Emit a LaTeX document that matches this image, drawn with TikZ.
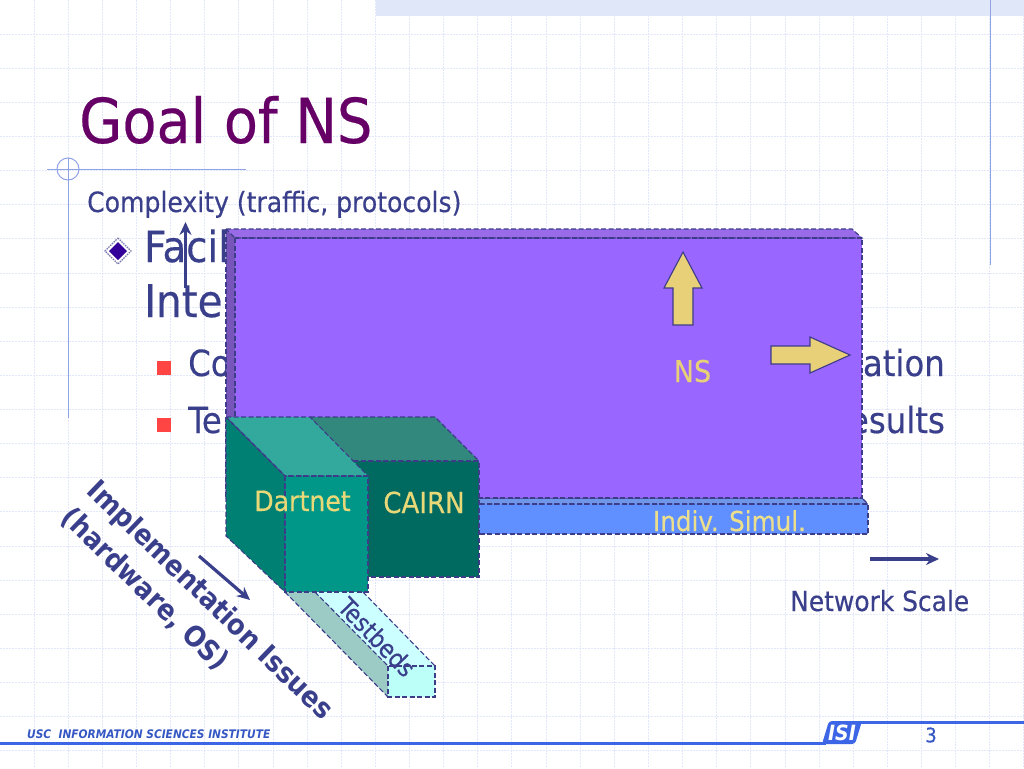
\documentclass[tikz,border=0pt]{standalone}
\usepackage{fontspec}
\setmainfont{DejaVu Sans Condensed}[UprightFeatures={FakeBold=0.35}]
\usetikzlibrary{arrows.meta}
\definecolor{gridc}{HTML}{E3E7FA}
\definecolor{stripc}{HTML}{DFE7F9}
\definecolor{rulec}{HTML}{8FA3E6}
\definecolor{titlec}{HTML}{660066}
\definecolor{inkc}{HTML}{3A3F8C}
\definecolor{edgec}{HTML}{3C3C88}
\definecolor{yellowc}{HTML}{E8D878}
\definecolor{arrowc}{HTML}{E8D078}
\definecolor{footc}{HTML}{3D66E6}
\definecolor{diamc}{HTML}{330099}
\definecolor{redc}{HTML}{FF4444}
\definecolor{barc}{HTML}{6090FF}
\definecolor{bartop}{HTML}{7096EA}
\definecolor{nsf}{HTML}{9966FF}
\definecolor{nst}{HTML}{9A6BE8}
\definecolor{nsl}{HTML}{7755BB}
\definecolor{tl}{HTML}{9CCBC6}
\definecolor{tt}{HTML}{CCFFFF}
\definecolor{tf}{HTML}{BBFFF8}
\definecolor{cf}{HTML}{006A60}
\definecolor{ct}{HTML}{33887E}
\definecolor{df}{HTML}{009688}
\definecolor{dl}{HTML}{008072}
\definecolor{dt}{HTML}{33A99E}
\newcommand{\fsz}[1]{\fontsize{#1}{#1}\selectfont}
\tikzset{
  txt/.style={inner sep=0pt,anchor=base west,text=inkc},
  face/.style={draw=edgec,line width=1.1pt,dash pattern=on 5pt off 2.5pt},
  blockarrow/.style={fill=arrowc,draw=edgec,line width=1.1pt},
  thinarrow/.style={draw=inkc,line width=3.2pt,-{Stealth[length=13pt,width=12pt]}},
  lab/.style={inner sep=0pt,text=yellowc,anchor=base}
}
\begin{document}
\begin{tikzpicture}[x=1pt,y=-1pt]
\useasboundingbox (0,0) rectangle (1024,768);
\fill[white] (0,0) rectangle (1024,768);
% background grid
\foreach \i in {1,...,30} \draw[gridc,line width=1pt,dash pattern=on 2pt off 1pt] ({\i*34.13},0) -- ({\i*34.13},768);
\foreach \i in {1,...,22} \draw[gridc,line width=1pt,dash pattern=on 2pt off 1pt] (0,{\i*34.13}) -- (1024,{\i*34.13});
\fill[stripc] (376,0) rectangle (1024,16);
% template rules
\draw[rulec,line width=1pt] (990,0) -- (990,265);
\draw[rulec,line width=1pt] (68,158) -- (68,418);
\draw[rulec,line width=1pt] (47,169) -- (246,169);
\draw[rulec,line width=1pt] (68,169) circle (11);
% title and list text
\node[txt,text=titlec] (title) at (79,143) {\fsz{62}Goal of NS};
\node[txt] (complexity) at (87,212) {\fsz{27.9}Complexity (traffic, protocols)};
\node[txt] (l1) at (144,262) {\fsz{43}Facil};
\node[txt] (l2) at (144,317) {\fsz{45}Inte};
\node[txt] (l3) at (188,376) {\fsz{36}Co};
\node[txt] (l4) at (188,433) {\fsz{36}Te};
\node[txt,anchor=base east] (r1) at (945,376) {\fsz{36}ation};
\node[txt,anchor=base east] (r2) at (945,433) {\fsz{36}esults};
% bullets
\fill[white] (118,237) -- (132,251) -- (118,265) -- (104,251) -- cycle;
\draw[edgec!70,line width=1.4pt,dash pattern=on 1.5pt off 1pt] (118,238) -- (131,251) -- (118,264) -- (105,251) -- cycle;
\fill[diamc] (118,242) -- (127,251) -- (118,260) -- (109,251) -- cycle;
\fill[redc] (157,361) rectangle (171,375);
\fill[redc] (157,418) rectangle (171,432);
% complexity arrow
\coordinate (ca) at (185.5,288);
\coordinate (cb) at (185.5,222);
\draw[thinarrow] (ca) -- (cb);
% blue bar
\fill[bartop] (226,498) -- (862,498) -- (868,504) -- (232,504) -- cycle;
\fill[barc] (232,504) rectangle (868,534);
\draw[face] (226,498) -- (862,498) -- (868,504) -- (232,504) -- cycle;
\draw[face] (232,504) rectangle (868,534);
\node[lab,text=yellowc!85!white] (indiv) at (729.5,531) {\fsz{27.4}Indiv. Simul.};
% NS box
\fill[nst] (226,229) -- (852,229) -- (862,238) -- (235,238) -- cycle;
\fill[nsl] (226,229) -- (235,238) -- (235,498) -- (226,498) -- cycle;
\fill[nsf] (235,238) rectangle (862,498);
\draw[face] (226,229) -- (852,229) -- (862,238) -- (235,238) -- cycle;
\draw[face] (226,229) -- (226,498);
\draw[face] (235,238) rectangle (862,498);
\node[lab,text=arrowc] (ns) at (692.5,382) {\fsz{30}NS};
% block arrows
\draw[blockarrow] (683,252) -- (702,288) -- (693,288) -- (693,325) -- (673,325) -- (673,288) -- (664,288) -- cycle;
\draw[blockarrow] (850,355) -- (810,373) -- (810,364) -- (771,364) -- (771,346) -- (810,346) -- (810,337) -- cycle;
% testbed
\fill[tt] (315,592) -- (363,592) -- (435,666) -- (388,666) -- cycle;
\fill[tl] (285,592) -- (315,592) -- (388,666) -- (388,697) -- cycle;
\fill[tf] (388,666) rectangle (435,697);
\draw[face] (285,592) -- (388,697);
\draw[face] (315,592) -- (388,666);
\draw[face] (363,592) -- (435,666);
\draw[face] (388,666) rectangle (435,697);
\node[inner sep=0pt,text=inkc,rotate=-46] (testbeds) at (377,637) {\fsz{25}Testbeds};
% CAIRN
\fill[ct] (310,417) -- (435,417) -- (479,461) -- (352,461) -- cycle;
\fill[cf] (352,461) rectangle (479,577);
\draw[face] (310,417) -- (435,417) -- (479,461) -- (352,461) -- cycle;
\draw[face] (352,461) rectangle (479,577);
\node[lab] (cairn) at (424,513) {\fsz{29}CAIRN};
% Dartnet
\fill[dt] (226,417) -- (310,417) -- (368,476) -- (285,476) -- cycle;
\fill[dl] (226,417) -- (285,476) -- (285,592) -- (226,536) -- cycle;
\fill[df] (285,476) rectangle (368,592);
\draw[face] (226,417) -- (310,417) -- (368,476) -- (285,476) -- cycle;
\draw[face] (226,417) -- (285,476) -- (285,592) -- (226,536) -- cycle;
\draw[face] (285,476) rectangle (368,592);
\node[lab] (dartnet) at (302.5,511) {\fsz{28}Dartnet};
% axis labels and arrows
\coordinate (ia) at (199,556);
\coordinate (ib) at (250,600);
\draw[thinarrow] (ia) -- (ib);
\coordinate (na) at (870,559);
\coordinate (nb) at (939,559);
\draw[thinarrow] (na) -- (nb);
\node[txt] (scale) at (790,611) {\fsz{27.7}Network Scale};
\node[inner sep=0pt,text=inkc,rotate=-44,align=left,font=\bfseries] (impl) at (197,614)
  {\fsz{28.4}Implementation Issues\\[9pt]\fsz{28.4}(hardware, OS)};
% footer
\draw[footc,line width=3pt] (0,743) -- (826,743);
\draw[footc,line width=3pt] (856,722) -- (1024,722);
\fill[footc,rounded corners=3pt] (829,721) -- (862,721) -- (855,744) -- (822,744) -- cycle;
\node[inner sep=0pt,text=white] (isi) at (842,733) {\fsz{21}\bfseries\itshape ISI};
\node[txt,text=footc!85!black] (usc) at (27,738) {\fsz{11.8}\bfseries\itshape USC\ \ INFORMATION SCIENCES INSTITUTE};
\node[inner sep=0pt,text=footc!85!black] (page) at (931,735) {\fsz{20}3};
\end{tikzpicture}
\end{document}
